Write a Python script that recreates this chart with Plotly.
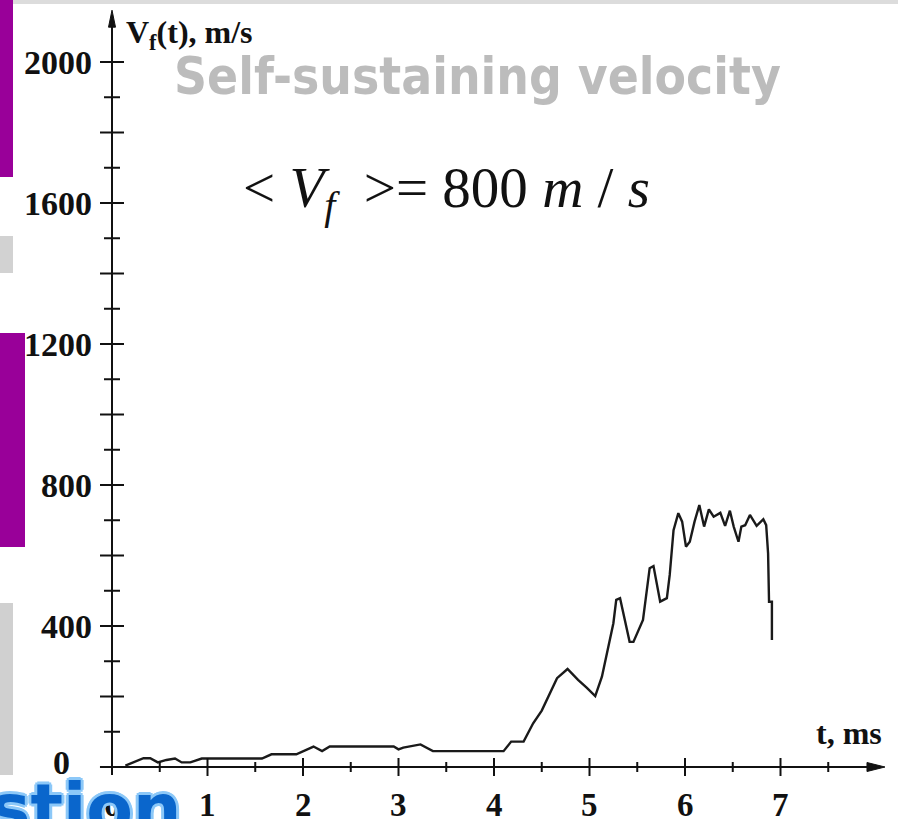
import plotly.graph_objects as go

# ---- data ----
t_ms = [0.14, 0.33, 0.40, 0.48, 0.57, 0.66, 0.73, 0.82, 0.94, 1.57, 1.67, 1.93,
        2.11, 2.20, 2.28, 2.95, 3.00, 3.05, 3.23, 3.36, 4.10, 4.18, 4.31, 4.41,
        4.50, 4.58, 4.66, 4.77, 4.88, 4.97, 5.06, 5.13, 5.25, 5.28, 5.32, 5.42,
        5.46, 5.56, 5.63, 5.67, 5.74, 5.81, 5.84, 5.88, 5.93, 5.97, 6.01, 6.05,
        6.10, 6.15, 6.20, 6.25, 6.30, 6.37, 6.42, 6.47, 6.51, 6.56, 6.59, 6.63,
        6.68, 6.75, 6.82, 6.85, 6.87, 6.88, 6.91, 6.91]
v_ms = [4, 25, 25, 13, 20, 24, 13, 13, 24, 24, 36, 36,
        58, 45, 58, 58, 50, 55, 64, 45, 45, 72, 72, 124,
        160, 205, 252, 278, 247, 225, 201, 256, 408, 474, 479, 355,
        355, 417, 564, 570, 469, 479, 545, 672, 720, 696, 625, 639,
        696, 743, 682, 731, 710, 721, 684, 727, 682, 639, 682, 686,
        715, 684, 703, 686, 606, 469, 469, 360]

x_tick_major = [0, 1, 2, 3, 4, 5, 6, 7]
x_tick_labels = ["0", "1", "2", "3", "4", "5", "6", "7"]
x_tick_minor = [0.5, 1.5, 2.5, 3.5, 4.5, 5.5, 6.5, 7.5]
y_label_vals = [0, 400, 800, 1200, 1600, 2000]
y_label_text = ["0", "400", "800", "1200", "1600", "2000"]
y_tick_vals = list(range(100, 2001, 100))

x_axis_start, x_axis_end = -0.126, 8.094
y_axis_start, y_axis_end = -23, 2147

# ---- page calibration ----
W, H = 898, 819
X0_PX, X_SCALE = 112, 95.5
Y0_PX, Y_SCALE = 767, 0.3525
x_range = [-X0_PX / X_SCALE, (W - X0_PX) / X_SCALE]
y_range = [-(H - Y0_PX) / Y_SCALE, Y0_PX / Y_SCALE]


def px(xp):
    return xp / W


def py(yp):
    return 1 - yp / H


serif = "Liberation Serif, Times New Roman, serif"
BLACK = "#111111"

fig = go.Figure()
fig.add_trace(go.Scatter(x=t_ms, y=v_ms, mode="lines",
                         line=dict(color="#1a1a1a", width=2.4),
                         hoverinfo="skip", showlegend=False))

shapes = []
# decorative slide background pieces
shapes += [
    dict(type="rect", xref="paper", yref="paper", x0=0, x1=1, y0=py(4), y1=1,
         fillcolor="#dcdcdc", line=dict(width=0), layer="below"),
    dict(type="rect", xref="paper", yref="paper", x0=0, x1=px(13), y0=py(177), y1=1,
         fillcolor="#990099", line=dict(width=0), layer="below"),
    dict(type="rect", xref="paper", yref="paper", x0=0, x1=px(13), y0=py(273), y1=py(236),
         fillcolor="#d2d2d2", line=dict(width=0), layer="below"),
    dict(type="rect", xref="paper", yref="paper", x0=0, x1=px(25), y0=py(547), y1=py(333),
         fillcolor="#990099", line=dict(width=0), layer="below"),
    dict(type="rect", xref="paper", yref="paper", x0=0, x1=px(13), y0=py(775), y1=py(603),
         fillcolor="#d0d0d0", line=dict(width=0), layer="below"),
]
# axis lines
shapes.append(dict(type="line", xref="x", yref="y", x0=x_axis_start, x1=x_axis_end - 0.1,
                   y0=0, y1=0, line=dict(color=BLACK, width=2)))
shapes.append(dict(type="line", xref="x", yref="y", x0=0, x1=0,
                   y0=y_axis_start, y1=y_axis_end - 30, line=dict(color=BLACK, width=2)))
# arrow heads
shapes.append(dict(type="path", xref="x", yref="y", xsizemode="pixel", ysizemode="pixel",
                   xanchor=x_axis_end, yanchor=0, path="M 0,0 L -18,4.5 L -18,-4.5 Z",
                   fillcolor=BLACK, line=dict(color=BLACK, width=1)))
shapes.append(dict(type="path", xref="x", yref="y", xsizemode="pixel", ysizemode="pixel",
                   xanchor=0, yanchor=y_axis_end, path="M 0,0 L -3.5,-17 L 3.5,-17 Z",
                   fillcolor=BLACK, line=dict(color=BLACK, width=1)))
# x ticks (crossing the axis)
for t in x_tick_major[1:]:
    shapes.append(dict(type="line", xref="x", yref="y", ysizemode="pixel", yanchor=0,
                       x0=t, x1=t, y0=-9, y1=9, line=dict(color=BLACK, width=2)))
for t in x_tick_minor:
    shapes.append(dict(type="line", xref="x", yref="y", ysizemode="pixel", yanchor=0,
                       x0=t, x1=t, y0=-5, y1=5, line=dict(color=BLACK, width=2)))
# y ticks
for v in y_tick_vals:
    half = 12 if v % 200 == 0 else 8
    shapes.append(dict(type="line", xref="x", yref="y", xsizemode="pixel", xanchor=0,
                       x0=-half, x1=half, y0=v, y1=v, line=dict(color=BLACK, width=2)))

ann = []
# background slide title
ann.append(dict(xref="paper", yref="paper", x=px(172), y=py(45), xanchor="left", yanchor="top",
                text="Self-sustaining velocity", showarrow=False,
                font=dict(family="DejaVu Sans Condensed, Liberation Sans Narrow, Arial Narrow, sans-serif",
                          size=51, color="#bcbcbc", weight="bold")))
# tick labels
for t, lab in zip(x_tick_major, x_tick_labels):
    ann.append(dict(xref="x", yref="y", x=t, y=0, yshift=-38, xanchor="center", yanchor="middle",
                    text=lab, showarrow=False,
                    font=dict(family=serif, size=33, color=BLACK, weight="bold")))
for v, lab in zip(y_label_vals, y_label_text):
    ann.append(dict(xref="x", yref="y", x=0, y=v, xshift=(-40 if v == 0 else -18),
                    yshift=(5 if v == 0 else 0),
                    xanchor="right", yanchor="middle", text=lab, showarrow=False,
                    font=dict(family=serif, size=34, color=BLACK, weight="bold")))
# axis titles
ann.append(dict(xref="paper", yref="paper", x=px(124), y=py(35), xanchor="left", yanchor="middle",
                text="V<sub>f</sub>(t), m/s", showarrow=False,
                font=dict(family=serif, size=32, color=BLACK, weight="bold")))
ann.append(dict(xref="paper", yref="paper", x=px(884), y=py(733), xanchor="right", yanchor="middle",
                text="t, ms", showarrow=False,
                font=dict(family=serif, size=32, color=BLACK, weight="bold")))
# formula
ann.append(dict(xref="paper", yref="paper", x=px(241), y=py(192), xanchor="left", yanchor="middle",
                text="&lt; <i>V</i><sub><i>f</i></sub>&nbsp; &gt;= 800 <i>m</i> / <i>s</i>",
                showarrow=False,
                font=dict(family=serif, size=57, color=BLACK)))
# slide fragment at bottom left
ann.append(dict(xref="paper", yref="paper", x=px(-12), y=py(767), xanchor="left", yanchor="top",
                text="stion", showarrow=False,
                font=dict(family="DejaVu Sans, sans-serif", size=68, color="#0a66cc", weight="bold",
                          shadow="3px 0 0 #8cc8f8, -3px 0 0 #8cc8f8, 0 3px 0 #8cc8f8, 0 -3px 0 #8cc8f8, "
                                 "2px 2px 0 #8cc8f8, -2px -2px 0 #8cc8f8, 2px -2px 0 #8cc8f8, -2px 2px 0 #8cc8f8")))

fig.update_layout(
    width=W, height=H, margin=dict(l=0, r=0, t=0, b=0),
    paper_bgcolor="white", plot_bgcolor="white",
    xaxis=dict(range=x_range, visible=False, fixedrange=True),
    yaxis=dict(range=y_range, visible=False, fixedrange=True),
    shapes=shapes, annotations=ann, showlegend=False,
)
fig.write_html("out.html", config={"displayModeBar": False},
               post_script="document.body.style.margin='0';document.body.style.overflow='hidden';")
